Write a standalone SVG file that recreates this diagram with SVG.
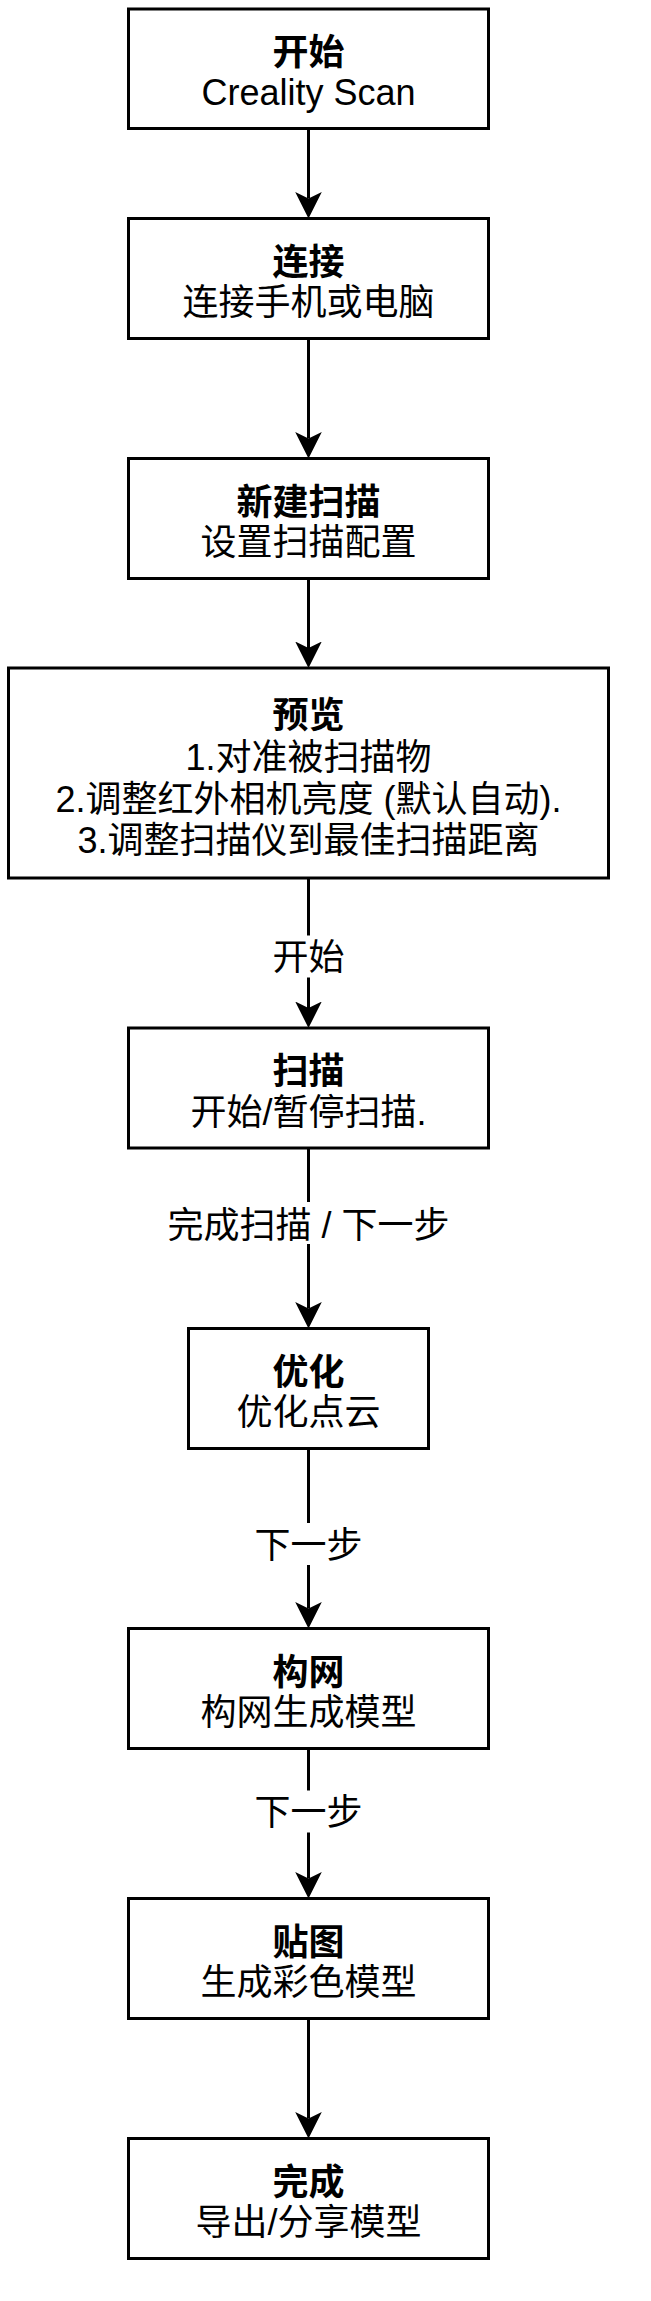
<svg xmlns="http://www.w3.org/2000/svg" width="651" height="2301" viewBox="0 0 651 2301">
<style>
.box{fill:#fff;stroke:#000;stroke-width:3}
.t{font-family:"Liberation Sans","Noto Sans CJK SC",sans-serif;font-size:36px;fill:#000;text-anchor:middle}
.b{font-weight:bold}
.edge{stroke:#000;stroke-width:3;fill:none;marker-end:url(#arr)}
.lbg{fill:#fff}
</style>
<defs>
<marker id="arr" markerUnits="userSpaceOnUse" markerWidth="28" markerHeight="28" viewBox="0 0 28 28" refX="6.5" refY="14" orient="auto">
<path d="M0,0.7 L26.5,14 L0,27.3 L6.5,14 Z" fill="#000"/>
</marker>
</defs>
<rect width="651" height="2301" fill="#fff"/>
<g id="n1"><rect class="box" x="128.5" y="9" width="360" height="119.5"/><text class="t b" x="308.5" y="64.5">开始</text><text class="t" x="308.5" y="105">Creality Scan</text></g>
<g id="n2"><rect class="box" x="128.5" y="218.5" width="360" height="120"/><text class="t b" x="308.5" y="274.5">连接</text><text class="t" x="308.5" y="315">连接手机或电脑</text></g>
<g id="n3"><rect class="box" x="128.5" y="458.5" width="360" height="120"/><text class="t b" x="308.5" y="514.5">新建扫描</text><text class="t" x="308.5" y="555">设置扫描配置</text></g>
<g id="n4"><rect class="box" x="8.5" y="668" width="600" height="210"/><text class="t b" x="308.5" y="728">预览</text><text class="t" x="308.5" y="770">1.对准被扫描物</text><text class="t" x="308.5" y="812">2.调整红外相机亮度 (默认自动).</text><text class="t" x="308.5" y="853">3.调整扫描仪到最佳扫描距离</text></g>
<g id="n5"><rect class="box" x="128.5" y="1028" width="360" height="120"/><text class="t b" x="308.5" y="1084">扫描</text><text class="t" x="308.5" y="1125">开始/暂停扫描.</text></g>
<g id="n6"><rect class="box" x="188.5" y="1328.5" width="240" height="120"/><text class="t b" x="308.5" y="1384.5">优化</text><text class="t" x="308.5" y="1425">优化点云</text></g>
<g id="n7"><rect class="box" x="128.5" y="1628.5" width="360" height="120"/><text class="t b" x="308.5" y="1684.5">构网</text><text class="t" x="308.5" y="1725">构网生成模型</text></g>
<g id="n8"><rect class="box" x="128.5" y="1898.5" width="360" height="120"/><text class="t b" x="308.5" y="1954.5">贴图</text><text class="t" x="308.5" y="1995">生成彩色模型</text></g>
<g id="n9"><rect class="box" x="128.5" y="2138.5" width="360" height="120"/><text class="t b" x="308.5" y="2194.5">完成</text><text class="t" x="308.5" y="2235">导出/分享模型</text></g>
<g id="connectors">
<line class="edge" x1="308.5" y1="128.5" x2="308.5" y2="198.5"/>
<line class="edge" x1="308.5" y1="338.5" x2="308.5" y2="438.5"/>
<line class="edge" x1="308.5" y1="578.5" x2="308.5" y2="648"/>
<line class="edge" x1="308.5" y1="878" x2="308.5" y2="1008"/>
<line class="edge" x1="308.5" y1="1148" x2="308.5" y2="1308.5"/>
<line class="edge" x1="308.5" y1="1448.5" x2="308.5" y2="1608.5"/>
<line class="edge" x1="308.5" y1="1748.5" x2="308.5" y2="1878.5"/>
<line class="edge" x1="308.5" y1="2018.5" x2="308.5" y2="2118.5"/>
<rect class="lbg" x="272" y="935.5" width="73" height="42"/><text class="t" x="308.5" y="969.5">开始</text>
<rect class="lbg" x="167" y="1202" width="283" height="42"/><text class="t" x="308.5" y="1238">完成扫描 / 下一步</text>
<rect class="lbg" x="254" y="1523" width="109" height="42"/><text class="t" x="308.5" y="1558">下一步</text>
<rect class="lbg" x="254" y="1790.5" width="109" height="42"/><text class="t" x="308.5" y="1824.5">下一步</text>
</g>
</svg>
